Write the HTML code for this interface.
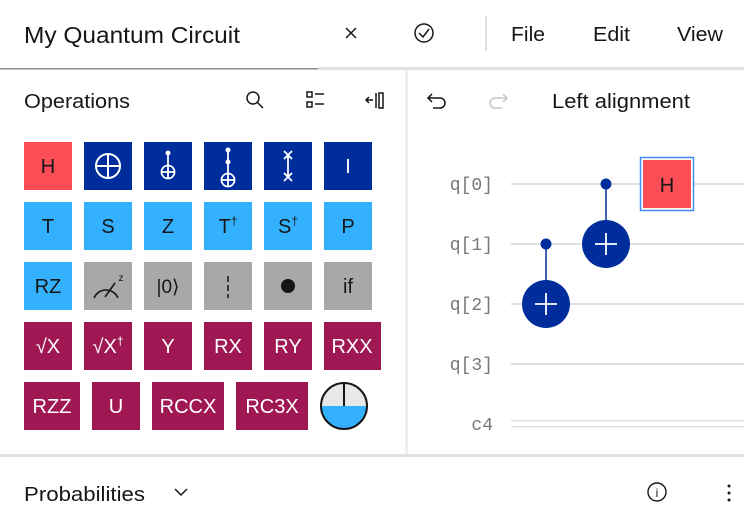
<!DOCTYPE html>
<html><head><meta charset="utf-8"><style>
html,body{margin:0;padding:0;background:#fff;width:744px;height:519px;overflow:hidden}
svg{display:block}
text{font-family:"Liberation Sans",sans-serif}
.m{font-family:"Liberation Mono",monospace;fill:#777;font-size:18px}
</style></head><body>
<svg width="744" height="519" viewBox="0 0 744 519">
<!-- header -->
<text x="24" y="43" font-size="23" fill="#161616" textLength="216" lengthAdjust="spacingAndGlyphs">My Quantum Circuit</text>
<g stroke="#161616" stroke-width="1.5" fill="none">
<path d="M346 28 L356 38 M356 28 L346 38"/>
<circle cx="424" cy="33" r="9"/><path d="M419 33 L423 37 L429 29"/>
</g>
<rect x="485" y="16" width="2" height="35" fill="#e0e0e0"/>
<text x="511" y="41" font-size="20" fill="#161616" textLength="34" lengthAdjust="spacingAndGlyphs">File</text>
<text x="593" y="41" font-size="20" fill="#161616" textLength="37" lengthAdjust="spacingAndGlyphs">Edit</text>
<text x="677" y="41" font-size="20" fill="#161616" textLength="46" lengthAdjust="spacingAndGlyphs">View</text>
<rect x="0" y="68" width="318" height="1.5" fill="#8d8d8d"/>
<rect x="318" y="67" width="426" height="3" fill="#e0e0e0"/>
<rect x="405" y="70" width="3" height="385" fill="#eeeeee"/>
<rect x="0" y="454" width="744" height="3" fill="#e0e0e0"/>
<!-- operations header -->
<text x="24" y="108" font-size="20" fill="#161616" textLength="106" lengthAdjust="spacingAndGlyphs">Operations</text>
<g stroke="#161616" stroke-width="1.5" fill="none">
<circle cx="253" cy="98" r="6"/><path d="M257 102 L263 108"/>
<rect x="307" y="92" width="5" height="5"/><rect x="307" y="102" width="5" height="5"/>
<path d="M315 94 H324 M315 104 H324"/>
<path d="M366 100 H373 M369 97 L366 100 L369 103 M376 93 V108"/><rect x="379" y="93" width="4" height="15"/>
<path d="M432 94 L428 98 L432 102 M428 98 H440 A5 5 0 0 1 440 108 H433"/>
</g>
<path d="M503 94 L507 98 L503 102 M507 98 H495 A5 5 0 0 0 495 108 H502" stroke="#c6c6c6" stroke-width="1.5" fill="none"/>
<text x="552" y="108" font-size="20" fill="#161616" textLength="138" lengthAdjust="spacingAndGlyphs">Left alignment</text>
<!-- gates -->
<g font-size="20" text-anchor="middle">
<rect x="24" y="142" width="48" height="48" fill="#fa4d56"/><text x="48" y="173" fill="#161616">H</text>
<rect x="84" y="142" width="48" height="48" fill="#002d9c"/>
<g stroke="#fff" stroke-width="2" fill="none"><circle cx="108" cy="166" r="12"/><path d="M96 166 H120 M108 154 V178"/></g>
<rect x="144" y="142" width="48" height="48" fill="#002d9c"/>
<g stroke="#fff" stroke-width="1.8" fill="none"><path d="M168 153 V166"/><circle cx="168" cy="172" r="6.5"/><path d="M161.5 172 H174.5 M168 165.5 V178.5"/></g>
<circle cx="168" cy="153" r="2.5" fill="#fff"/>
<rect x="204" y="142" width="48" height="48" fill="#002d9c"/>
<g stroke="#fff" stroke-width="1.8" fill="none"><path d="M228 150 V174"/><circle cx="228" cy="180" r="6.5"/><path d="M221.5 180 H234.5 M228 173.5 V186.5"/></g>
<circle cx="228" cy="150" r="2.5" fill="#fff"/><circle cx="228" cy="162" r="2.5" fill="#fff"/>
<rect x="264" y="142" width="48" height="48" fill="#002d9c"/>
<g stroke="#fff" stroke-width="1.8" fill="none"><path d="M284 151 L292 159 M292 151 L284 159 M284 173 L292 181 M292 173 L284 181 M288 155 V177"/></g>
<rect x="324" y="142" width="48" height="48" fill="#002d9c"/><text x="348" y="173" fill="#fff">I</text>

<rect x="24" y="202" width="48" height="48" fill="#33b1ff"/><text x="48" y="233" fill="#161616">T</text>
<rect x="84" y="202" width="48" height="48" fill="#33b1ff"/><text x="108" y="233" fill="#161616">S</text>
<rect x="144" y="202" width="48" height="48" fill="#33b1ff"/><text x="168" y="233" fill="#161616">Z</text>
<rect x="204" y="202" width="48" height="48" fill="#33b1ff"/><text x="228" y="233" fill="#161616">T<tspan font-size="12" dy="-8">†</tspan></text>
<rect x="264" y="202" width="48" height="48" fill="#33b1ff"/><text x="288" y="233" fill="#161616">S<tspan font-size="12" dy="-8">†</tspan></text>
<rect x="324" y="202" width="48" height="48" fill="#33b1ff"/><text x="348" y="233" fill="#161616">P</text>

<rect x="24" y="262" width="48" height="48" fill="#33b1ff"/><text x="48" y="293" fill="#161616">RZ</text>
<rect x="84" y="262" width="48" height="48" fill="#a8a8a8"/>
<g stroke="#161616" stroke-width="1.6" fill="none"><path d="M94 298 A13 13 0 0 1 118 298 M105 297 L115 283"/></g>
<text x="121" y="281" font-size="10" fill="#161616">z</text>
<rect x="144" y="262" width="48" height="48" fill="#a8a8a8"/><text x="168" y="293" fill="#161616" font-size="19">|0⟩</text>
<rect x="204" y="262" width="48" height="48" fill="#a8a8a8"/>
<path d="M228 276 V282 M228 285 V291 M228 294 V298" stroke="#161616" stroke-width="1.5"/>
<rect x="264" y="262" width="48" height="48" fill="#a8a8a8"/><circle cx="288" cy="286" r="7" fill="#161616"/>
<rect x="324" y="262" width="48" height="48" fill="#a8a8a8"/><text x="348" y="293" fill="#161616">if</text>

<g fill="#9f1853"><rect x="24" y="322" width="48" height="48"/><rect x="84" y="322" width="48" height="48"/><rect x="144" y="322" width="48" height="48"/><rect x="204" y="322" width="48" height="48"/><rect x="264" y="322" width="48" height="48"/><rect x="324" y="322" width="57" height="48"/>
<rect x="24" y="382" width="56" height="48"/><rect x="92" y="382" width="48" height="48"/><rect x="152" y="382" width="72" height="48"/><rect x="236" y="382" width="72" height="48"/></g>
<g fill="#fff">
<text x="48" y="353">√X</text><text x="108" y="353">√X<tspan font-size="12" dy="-8">†</tspan></text>
<text x="168" y="353">Y</text><text x="228" y="353">RX</text><text x="288" y="353">RY</text><text x="352" y="353">RXX</text>
<text x="52" y="413">RZZ</text><text x="116" y="413">U</text><text x="188" y="413">RCCX</text><text x="272" y="413">RC3X</text>
</g>
</g>
<circle cx="344" cy="406" r="23" fill="#e8e8e8"/>
<path d="M321 406 H367 A23 23 0 0 1 321 406 Z" fill="#33b1ff"/>
<circle cx="344" cy="406" r="23" fill="none" stroke="#161616" stroke-width="2"/>
<path d="M344 383 V406" stroke="#161616" stroke-width="2"/>
<!-- circuit -->
<g fill="#e0e0e0"><rect x="511" y="183" width="233" height="2"/><rect x="511" y="243" width="233" height="2"/><rect x="511" y="303" width="233" height="2"/><rect x="511" y="363" width="233" height="2"/><rect x="511" y="420" width="233" height="1.5"/><rect x="511" y="426" width="233" height="1.5"/></g>
<g text-anchor="end"><text class="m" x="493" y="190">q[0]</text><text class="m" x="493" y="250">q[1]</text><text class="m" x="493" y="310">q[2]</text><text class="m" x="493" y="370">q[3]</text><text class="m" x="493" y="430">c4</text></g>
<path d="M546 244 V304 M606 184 V244" stroke="#002d9c" stroke-width="1.5"/>
<circle cx="546" cy="244" r="5.5" fill="#002d9c"/><circle cx="606" cy="184" r="5.5" fill="#002d9c"/>
<circle cx="546" cy="304" r="24" fill="#002d9c"/><circle cx="606" cy="244" r="24" fill="#002d9c"/>
<path d="M535 304 H557 M546 293 V315 M595 244 H617 M606 233 V255" stroke="#fff" stroke-width="1.8"/>
<rect x="640.5" y="157.5" width="53" height="53" fill="#fff" stroke="#4589ff" stroke-width="1.5"/>
<rect x="643" y="160" width="48" height="48" fill="#fa4d56"/>
<text x="667" y="192" font-size="20" text-anchor="middle" fill="#161616">H</text>
<!-- footer -->
<text x="24" y="501" font-size="20" fill="#161616" textLength="121" lengthAdjust="spacingAndGlyphs">Probabilities</text>
<path d="M175 489 L181 495 L187 489" stroke="#161616" stroke-width="1.5" fill="none"/>
<circle cx="657" cy="492" r="9" fill="none" stroke="#161616" stroke-width="1.4"/>
<text x="657" y="497" font-size="12" text-anchor="middle" fill="#161616">i</text>
<g fill="#161616"><circle cx="729" cy="486" r="1.5"/><circle cx="729" cy="493" r="1.5"/><circle cx="729" cy="500" r="1.5"/></g>
</svg>
</body></html>
